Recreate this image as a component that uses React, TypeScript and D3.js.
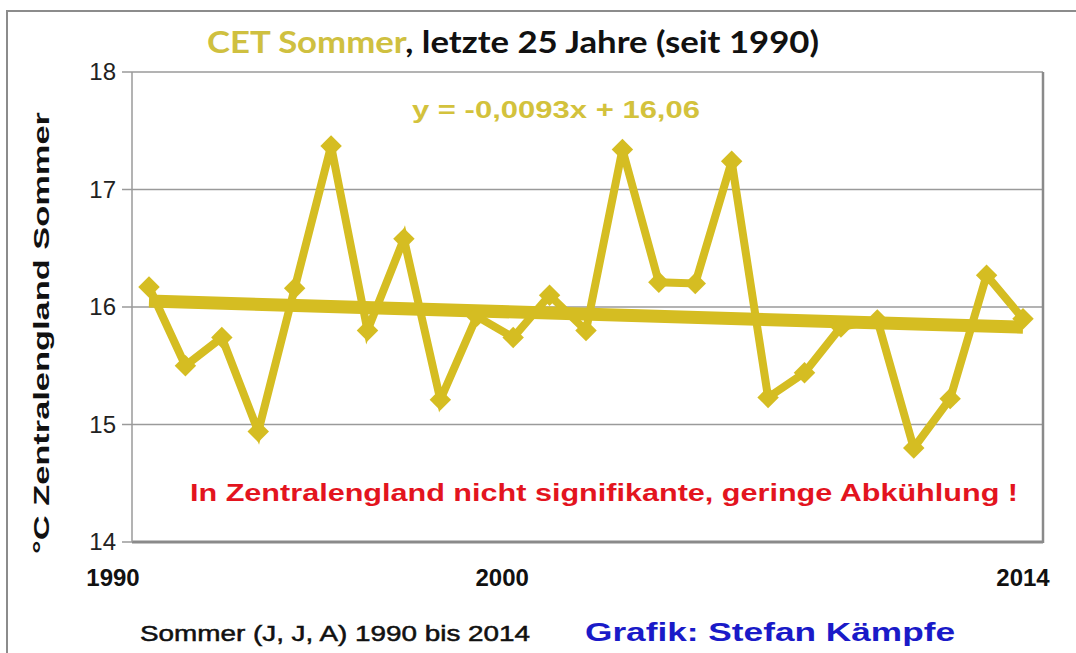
import React from "react";
import * as d3 from "d3";

const years: number[] = [1990,1991,1992,1993,1994,1995,1996,1997,1998,1999,2000,2001,2002,2003,2004,2005,2006,2007,2008,2009,2010,2011,2012,2013,2014];
const temps: number[] = [16.17,15.50,15.74,14.94,16.16,17.37,15.80,16.58,15.21,15.92,15.74,16.10,15.80,17.34,16.21,16.20,17.24,15.23,15.44,15.83,15.89,14.80,15.22,16.27,15.90];
const yTicks: number[] = [14,15,16,17,18];
const xLabels: number[] = [1990,2000,2014];
const trendSlope = -0.0093;
const trendIntercept = 16.06;

const W = 1076, H = 653;
const GOLD = "#D5BD22";

export default function App() {
  const x = d3.scaleLinear().domain([1990, 2014]).range([149, 1023]);
  const y = d3.scaleLinear().domain([14, 18]).range([542, 72]);
  const plotL = 132, plotR = 1043;

  const pts = years.map((yr, i) => [x(yr), y(temps[i])] as [number, number]);
  const line = d3.line()(pts) || "";
  const trendY = (i: number) => trendIntercept + trendSlope * i;
  const trend = d3.line()([[x(1990), y(trendY(1))], [x(2014), y(trendY(25))]]) || "";
  const diamond = d3.symbol().type(d3.symbolSquare).size(230)() || "";

  const xLabelPos: Record<number, number> = { 1990: -36, 2000: -11, 2014: 0 };

  return (
    <svg width={W} height={H} style={{ position: "absolute", left: 0, top: 0, background: "#fff" }}>
      <rect x={0} y={0} width={W} height={H} fill="#fff" />
      <rect x={7} y={11} width={W} height={H} fill="none" stroke="#8c8c8c" strokeWidth={2} />
      {yTicks.map((t) => (
        <g key={t}>
          <line x1={plotL} x2={plotR} y1={y(t)} y2={y(t)} stroke={t === 14 ? "#8a8a8a" : "#9a9a9a"} strokeWidth={t === 14 ? 3 : 1.5} />
          <line x1={122} x2={plotL} y1={y(t)} y2={y(t)} stroke="#9a9a9a" strokeWidth={1.5} />
          <text x={116} y={y(t) + 8} textAnchor="end" fontFamily="Liberation Sans, Arial, sans-serif" fontSize={24} fill="#222">{t}</text>
        </g>
      ))}
      <line x1={plotL} x2={plotL} y1={y(18)} y2={y(14)} stroke="#9a9a9a" strokeWidth={1.5} />
      <line x1={plotR} x2={plotR} y1={y(18)} y2={y(14) + 1} stroke="#8a8a8a" strokeWidth={2.5} />

      <path d={line} fill="none" stroke={GOLD} strokeWidth={8} strokeLinejoin="miter" />
      <path d={trend} fill="none" stroke={GOLD} strokeWidth={13} />
      {pts.map((p, i) => (
        <path key={i} d={diamond} transform={`translate(${p[0]},${p[1]}) rotate(45)`} fill={GOLD} />
      ))}

      <text x={207} y={53} fontFamily="Lato, 'Open Sans', sans-serif" fontWeight={700} fontSize={31} textLength={612} lengthAdjust="spacingAndGlyphs">
        <tspan fill="#CFC040">CET Sommer</tspan>
        <tspan fill="#111">, letzte 25 Jahre (seit 1990)</tspan>
      </text>
      <text x={412} y={118} fontFamily="Liberation Sans, Arial, sans-serif" fontWeight={700} fontSize={23} fill="#D3C23C" textLength={288} lengthAdjust="spacingAndGlyphs">y = -0,0093x + 16,06</text>
      <text x={190} y={501} fontFamily="Liberation Sans, Arial, sans-serif" fontWeight={700} fontSize={23} fill="#E3141E" textLength={828} lengthAdjust="spacingAndGlyphs">In Zentralengland nicht signifikante, geringe Abkühlung !</text>

      {xLabels.map((l) => (
        <text key={l} x={x(l) + xLabelPos[l]} y={586} textAnchor="middle" fontFamily="Liberation Sans, Arial, sans-serif" fontWeight={700} fontSize={24} fill="#111">{l}</text>
      ))}

      <text transform={`translate(49,333) rotate(-90)`} textAnchor="middle" fontFamily="Liberation Sans, Arial, sans-serif" fontWeight={700} fontSize={22} fill="#111" textLength={442} lengthAdjust="spacingAndGlyphs">°C Zentralengland Sommer</text>

      <text x={140} y={641} fontFamily="Liberation Sans, Arial, sans-serif" fontWeight={400} fontSize={22} fill="#111" stroke="#111" strokeWidth={0.5} textLength={390} lengthAdjust="spacingAndGlyphs">Sommer (J, J, A) 1990 bis 2014</text>
      <text x={585} y={641} fontFamily="Liberation Sans, Arial, sans-serif" fontWeight={700} fontSize={25} fill="#1A1AC8" textLength={370} lengthAdjust="spacingAndGlyphs">Grafik: Stefan Kämpfe</text>
    </svg>
  );
}
